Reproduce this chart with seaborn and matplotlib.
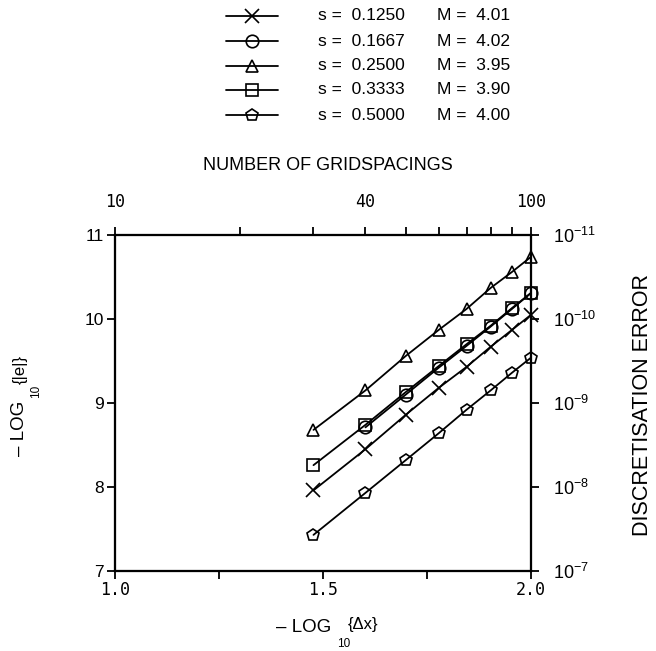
import numpy as np
import pandas as pd
import matplotlib
matplotlib.use("Agg")
import matplotlib.pyplot as plt
import seaborn as sns
from matplotlib.lines import Line2D
from matplotlib.ticker import NullLocator

# ---------------- data ----------------
s_labels = ["0.1250", "0.1667", "0.2500", "0.3333", "0.5000"]
M_labels = ["4.01", "4.02", "3.95", "3.90", "4.00"]
markers = ["x", "o", "^", "s", "p"]

gridspacings = [30, 40, 50, 60, 70, 80, 90, 100]
gridspacings_circle = [40, 50, 60, 70, 80, 90, 100]

err_s0125 = [7.96, 8.45, 8.86, 9.18, 9.43, 9.67, 9.87, 10.05]
err_s1667 = [8.71, 9.10, 9.42, 9.68, 9.91, 10.12, 10.31]
err_s2500 = [8.68, 9.15, 9.56, 9.87, 10.12, 10.37, 10.56, 10.74]
err_s3333 = [8.26, 8.74, 9.13, 9.44, 9.70, 9.92, 10.13, 10.31]
err_s5000 = [7.43, 7.93, 8.32, 8.64, 8.92, 9.15, 9.36, 9.54]

series_N = [gridspacings, gridspacings_circle, gridspacings, gridspacings, gridspacings]
series_err = [err_s0125, err_s1667, err_s2500, err_s3333, err_s5000]

bottom_ticks = [1.0, 1.25, 1.5, 1.75, 2.0]
bottom_ticklabels = ["1.0", "", "1.5", "", "2.0"]
left_ticks = [7, 8, 9, 10, 11]
top_ticks = [10, 20, 30, 40, 50, 60, 70, 80, 90, 100]
top_ticklabels = ["10", "", "", "40", "", "", "", "", "", "100"]
right_ticks = [1e-7, 1e-8, 1e-9, 1e-10, 1e-11]
right_ticklabels = [r"$10^{-7}$", r"$10^{-8}$", r"$10^{-9}$", r"$10^{-10}$", r"$10^{-11}$"]

# ---------------- style ----------------
sns.set_theme(style="ticks")
plt.rcParams["font.family"] = ["Liberation Sans", "DejaVu Sans"]
plt.rcParams["mathtext.fontset"] = "custom"
plt.rcParams["mathtext.rm"] = "Liberation Sans"
plt.rcParams["mathtext.it"] = "Liberation Sans:italic"
plt.rcParams["axes.linewidth"] = 1.5
for k in ["text.color", "axes.labelcolor", "xtick.color", "ytick.color", "axes.edgecolor"]:
    plt.rcParams[k] = "black"

W, H = 656, 651
fig = plt.figure(figsize=(W / 100, H / 100), dpi=100)
ax = fig.add_axes([115 / W, 1 - 571 / H, 416 / W, 336 / H])

rows = []
for s, Ns, errs in zip(s_labels, series_N, series_err):
    for n, e in zip(Ns, errs):
        rows.append({"s": s, "x": np.log10(n), "err": e})
df = pd.DataFrame(rows)

for s, m in zip(s_labels, markers):
    sub = df[df["s"] == s]
    sns.lineplot(data=sub, x="x", y="err", ax=ax, color="black", marker=m,
                 markersize=9 if m != "x" else 10, markerfacecolor="none",
                 markeredgecolor="black", markeredgewidth=1.2, linewidth=1.3,
                 legend=False, clip_on=False)

ax.set_xlim(1.0, 2.0)
ax.set_ylim(7, 11)
ax.set_xlabel("")
ax.set_ylabel("")
ax.set_xticks(bottom_ticks)
ax.set_xticklabels(bottom_ticklabels, family="DejaVu Sans Mono", fontsize=12)
ax.set_yticks(left_ticks)
ax.set_yticklabels([str(v) for v in left_ticks], fontsize=12.5)
ax.tick_params(axis="both", direction="out", length=6, width=1.3, colors="black", pad=2)
ax.tick_params(axis="x", pad=1)
for sp in ax.spines.values():
    sp.set_color("black")
    sp.set_linewidth(1.5)

# top axis: number of gridspacings
axt = ax.twiny()
axt.set_xscale("log")
axt.set_xlim(10, 100)
axt.set_xticks(top_ticks)
axt.set_xticklabels(top_ticklabels, family="DejaVu Sans Mono", fontsize=12)
axt.xaxis.set_minor_locator(NullLocator())
axt.tick_params(axis="x", direction="out", length=6, width=1.3, colors="black", pad=11)

# right axis: discretisation error
axr = ax.twinx()
axr.set_yscale("log")
axr.set_ylim(1e-7, 1e-11)
axr.set_yticks(right_ticks)
axr.set_yticklabels(right_ticklabels, fontsize=13)
axr.yaxis.set_minor_locator(NullLocator())
axr.tick_params(axis="y", direction="out", length=6, width=1.3, colors="black", pad=10)
for a in (axt, axr):
    for sp in a.spines.values():
        sp.set_color("black")
        sp.set_linewidth(1.5)

# labels
fig.text(328 / W, 1 - 165 / H, "NUMBER OF GRIDSPACINGS", ha="center", va="center", fontsize=13)
fig.text(642 / W, 1 - 405 / H, "DISCRETISATION ERROR", ha="center", va="center",
         rotation=90, fontsize=15.5)

# bottom label pieces
fig.text(331 / W, 1 - 628 / H, "\u2013 LOG", ha="right", va="center", fontsize=13.5)
fig.text(337 / W, 1 - 644 / H, "10", ha="left", va="center", fontsize=8.5)
fig.text(348 / W, 1 - 625 / H, "{\u0394x}", ha="left", va="center", fontsize=12)

# left label pieces
fig.text(20 / W, 1 - 428 / H, "\u2013 LOG", ha="center", va="center", rotation=90, fontsize=13.5)
fig.text(36 / W, 1 - 391 / H, "10", ha="center", va="center", rotation=90, fontsize=8.5)
fig.text(20 / W, 1 - 370 / H, "{|e|}", ha="center", va="center", rotation=90, fontsize=12)

# legend drawn manually
row_y = [16, 41, 66, 90, 115]
for y, m, s, M in zip(row_y, markers, s_labels, M_labels):
    yf = 1 - y / H
    fig.add_artist(Line2D([226 / W, 278 / W], [yf, yf], transform=fig.transFigure,
                          color="black", lw=1.3))
    fig.add_artist(Line2D([252 / W], [yf], transform=fig.transFigure, color="black",
                          marker=m, markersize=9 if m != "x" else 10, markerfacecolor="none",
                          markeredgecolor="black", markeredgewidth=1.2, lw=0))
    fig.text(318 / W, yf, "s =  " + s, ha="left", va="center", fontsize=12.5)
    fig.text(437 / W, yf, "M =  " + M, ha="left", va="center", fontsize=12.5)

fig.savefig("out.png", dpi=100)
